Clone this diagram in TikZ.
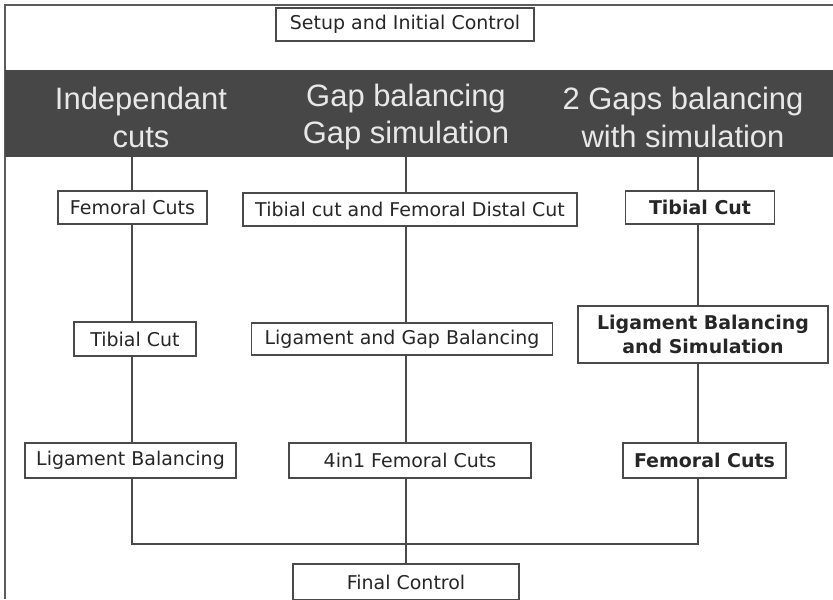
\documentclass[tikz,border=0pt]{standalone}
\usepackage{fontspec}
\setmainfont{DejaVu Sans}
\newfontfamily\hdrfont{Liberation Sans}
\usetikzlibrary{positioning,calc}
\definecolor{bandgray}{HTML}{474747}
\definecolor{hdrtext}{HTML}{E8E8E8}
\definecolor{linegray}{HTML}{4A4A4A}

\begin{document}
\begin{tikzpicture}[x=0.025cm,y=-0.025cm,
        box/.style={draw=linegray, line width=0.9pt, fill=white, inner sep=2pt,
            text=black!85, align=center, font=\fontsize{13.5}{16}\selectfont},
        boldbox/.style={box, font=\fontsize{13.5}{16.5}\selectfont\bfseries},
        hdr/.style={text=hdrtext, align=center, font=\hdrfont\fontsize{22}{27}\selectfont},
        link/.style={draw=linegray, line width=0.8pt}]
            \useasboundingbox (0,0) rectangle (833,599);
            \draw[linegray!90, line width=1.5pt] (5,599) -- (5,5) -- (833,5);
            \fill[bandgray] (5,70) rectangle (833,157);

            \node[box, minimum width=6.45cm, minimum height=0.825cm] (setup) at (405,24.5) {Setup and Initial Control};

            \node[hdr] (hA) at (141,117) {Independant\\cuts};
            \node[hdr] (hB) at (406,117) {Gap balancing\\Gap simulation};
            \node[hdr] (hC) at (683,117) {2 Gaps balancing\\with simulation};

            \node[box, minimum width=3.725cm, minimum height=0.825cm] (femA) at (132.5,207.5) {Femoral Cuts};
            \node[box, minimum width=3.05cm, minimum height=0.85cm] (tibA) at (135,339) {Tibial Cut};
            \node[box, minimum width=5.275cm, minimum height=0.875cm] (ligA) at (130.5,460.5) {Ligament Balancing};

            \node[box, minimum width=8.35cm, minimum height=0.825cm] (tibfemB) at (410,209.5) {Tibial cut and Femoral Distal Cut};
            \node[box, minimum width=7.525cm, minimum height=0.8cm] (liggapB) at (402,339) {Ligament and Gap Balancing};
            \node[box, minimum width=6.05cm, minimum height=0.875cm] (femB) at (410,460.5) {4in1 Femoral Cuts};

            \node[boldbox, minimum width=3.725cm, minimum height=0.825cm] (tibC) at (700,207.5) {Tibial Cut};
            \node[boldbox, minimum width=6.25cm, minimum height=1.425cm] (ligsimC) at (703,334.5) {Ligament Balancing\\and Simulation};
            \node[boldbox, minimum width=4.075cm, minimum height=0.875cm] (femC) at (704.5,460.5) {Femoral Cuts};

            \node[box, minimum width=5.65cm, minimum height=0.9cm] (final) at (406,582) {Final Control};

            \coordinate (bA) at (132,157);
            \coordinate (bB) at (406,157);
            \coordinate (bC) at (698,157);
            \coordinate (jA) at (132,544);
            \coordinate (jC) at (698,544);

            \draw[link] (bA) -- (bA |- femA.north);
            \draw[link] (bA |- femA.south) -- (bA |- tibA.north);
            \draw[link] (bA |- tibA.south) -- (bA |- ligA.north);
            \draw[link] (bA |- ligA.south) -- (jA) -- (jC) -- (jC |- femC.south);

            \draw[link] (bB) -- (bB |- tibfemB.north);
            \draw[link] (bB |- tibfemB.south) -- (bB |- liggapB.north);
            \draw[link] (bB |- liggapB.south) -- (bB |- femB.north);
            \draw[link] (bB |- femB.south) -- (bB |- final.north);

            \draw[link] (bC) -- (bC |- tibC.north);
            \draw[link] (bC |- tibC.south) -- (bC |- ligsimC.north);
            \draw[link] (bC |- ligsimC.south) -- (bC |- femC.north);
        \end{tikzpicture}
\end{document}
